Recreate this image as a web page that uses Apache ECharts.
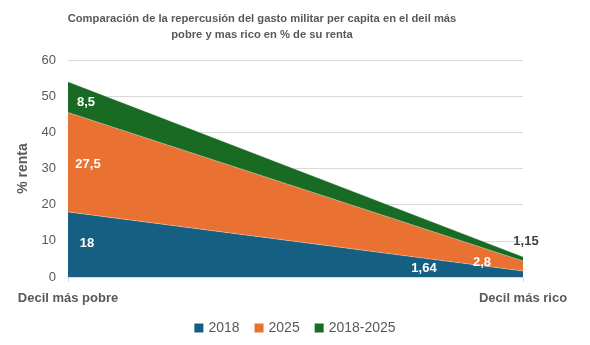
<!DOCTYPE html>
<html><head><meta charset="utf-8">
<script src="https://cdn.jsdelivr.net/npm/echarts@6/dist/echarts.min.js"></script>
<style>html,body{margin:0;padding:0;background:#fff}#c{width:590px;height:345px}</style>
</head><body><div id="c"></div>
<script>
var categories = ['Decil más pobre', 'Decil más rico'];
var seriesNames = ['2018', '2025', '2018-2025'];
var v2018 = [18, 1.64];
var v2025 = [27.5, 2.8];
var vDiff = [8.5, 1.15];
var yTicks = [0, 10, 20, 30, 40, 50, 60];

var colors = ['#156082', '#E97132', '#196B24'];
// label offsets per point [series][point] (pixels from the stacked point)
var labelOffsets = [
  [[19, 32], [-99, -3]],
  [[20, 52], [-41, 1]],
  [[18, 21], [3, -15]]
];
var labelColors = [['#fff', '#fff'], ['#fff', '#fff'], ['#fff', '#404040']];

var allValues = [v2018, v2025, vDiff];
function fmt(v) { return String(v).replace('.', ','); }

var series = allValues.map(function (vals, si) {
  return {
    name: seriesNames[si],
    type: 'line',
    stack: 'total',
    symbol: 'circle',
    symbolSize: 0,
    showSymbol: true,
    clip: false,
    lineStyle: { width: 0.6, color: 'rgba(255,255,255,0.5)' },
    itemStyle: { color: colors[si] },
    areaStyle: { color: colors[si], opacity: 1 },
    labelLayout: { hideOverlap: false },
    data: vals.map(function (v, pi) {
      return {
        value: v,
        label: {
          show: true,
          position: labelOffsets[si][pi],
          align: 'center',
          verticalAlign: 'middle',
          color: labelColors[si][pi],
          fontWeight: 'bold',
          fontSize: 13,
          fontFamily: 'Liberation Sans, Arial, sans-serif',
          formatter: function (p) { return fmt(p.value); }
        }
      };
    })
  };
});

var chart = echarts.init(document.getElementById('c'), null, { renderer: 'canvas' });
chart.setOption({
  animation: false,
  color: colors,
  title: {
    text: 'Comparación de la repercusión del gasto militar per capita en el deil más\npobre y mas rico en % de su renta',
    left: 257,
    top: 6,
    textAlign: 'center',
    textStyle: { fontSize: 11.2, fontWeight: 'bold', color: '#595959', lineHeight: 16, fontFamily: 'Liberation Sans, Arial, sans-serif' }
  },
  legend: {
    data: seriesNames,
    bottom: 5,
    left: 'center',
    itemWidth: 9,
    itemHeight: 9,
    itemGap: 15,
    icon: 'rect',
    textStyle: { fontSize: 14, color: '#595959', fontFamily: 'Liberation Sans, Arial, sans-serif' }
  },
  grid: { left: 68, right: 67, top: 60, bottom: 68 },
  xAxis: {
    type: 'category',
    data: categories,
    boundaryGap: false,
    axisLine: { lineStyle: { color: '#d9d9d9' } },
    axisTick: { show: true, length: 5, lineStyle: { color: '#d9d9d9' } },
    axisLabel: { color: '#595959', fontWeight: 'bold', fontSize: 13, margin: 15, fontFamily: 'Liberation Sans, Arial, sans-serif' }
  },
  yAxis: {
    type: 'value',
    min: yTicks[0],
    max: yTicks[yTicks.length - 1],
    interval: 10,
    name: '% renta',
    nameLocation: 'middle',
    nameGap: 36,
    nameTextStyle: { color: '#595959', fontWeight: 'bold', fontSize: 14, fontFamily: 'Liberation Sans, Arial, sans-serif' },
    axisLine: { show: false },
    axisTick: { show: false },
    splitLine: { lineStyle: { color: '#d9d9d9' } },
    axisLabel: { color: '#595959', fontSize: 13, margin: 12, fontFamily: 'Liberation Sans, Arial, sans-serif' }
  },
  series: series
});
</script>
</body></html>
